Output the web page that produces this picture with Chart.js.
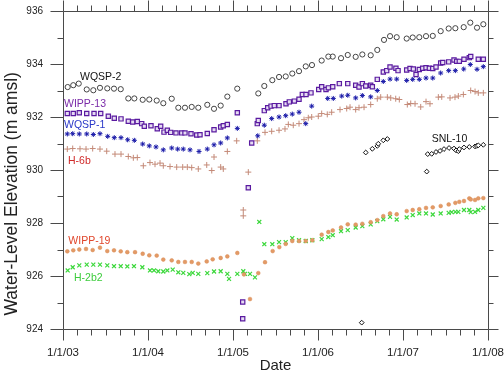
<!DOCTYPE html>
<html><head><meta charset="utf-8">
<script src="https://cdn.jsdelivr.net/npm/chart.js@4.4.1/dist/chart.umd.min.js"></script>
<style>html,body{margin:0;padding:0;background:#fff;}#wrap{width:504px;height:375px;}</style>
</head><body><div id="wrap"><canvas id="c" width="504" height="375"></canvas></div>
<script>
// x values are months after 1/1/03
const xTickLabels = ['1/1/03','1/1/04','1/1/05','1/1/06','1/1/07','1/1/08'];
const yTickValues = [924,926,928,930,932,934,936];
const yTitle = 'Water-Level Elevation (m amsl)';

const wqsp2 = [[0.66,933.13],[1.45,933.20],[2.22,933.26],[3.35,933.04],[4.28,933.01],[5.22,933.10],[6.25,933.08],[7.2,933.07],[8.15,933.05],[9.22,932.70],[10.07,932.70],[11.25,932.65],[12.18,932.66],[13.23,932.62],[14.16,932.52],[15.35,932.69],[16.28,932.35],[17.22,932.35],[18.17,932.38],[19.1,932.35],[20.37,932.46],[21.32,932.31],[22.26,932.43],[23.2,932.77],[24.6,933.07],[27.57,932.89],[28.42,933.17],[29.55,933.39],[30.5,933.51],[31.44,933.53],[32.37,933.64],[33.32,933.73],[34.27,933.91],[35.15,933.96],[36.52,934.13],[37.46,934.28],[38.08,934.28],[39.25,934.22],[40.2,934.34],[41.32,934.27],[42.26,934.36],[43.44,934.33],[44.37,934.53],[45.32,934.91],[46.17,935.05],[47.11,935.01],[48.52,934.96],[49.37,935.00],[50.3,935.01],[51.25,935.05],[52.2,935.06],[53.32,935.24],[54.45,935.34],[55.39,935.35],[56.57,935.39],[57.5,935.56],[58.45,935.37],[59.34,935.50]];

const wipp13 = [[0.61,932.13],[1.45,932.13],[2.3,932.16],[3.35,932.13],[4.38,932.13],[5.32,932.13],[6.4,932.03],[7.24,931.95],[8.19,931.93],[9.22,931.84],[9.84,931.81],[10.49,931.83],[11.11,931.75],[11.48,931.65],[12.42,931.67],[13.31,931.56],[13.79,931.65],[14.26,931.43],[14.73,931.50],[15.2,931.42],[15.95,931.40],[16.76,931.40],[17.22,931.40],[18.07,931.37],[18.88,931.32],[19.34,931.33],[20.37,931.38],[21.32,931.52],[22.26,931.62],[22.63,931.67],[23.2,931.72],[24.61,932.16],[25.37,925.02],[25.37,924.39],[26.16,929.33],[26.64,931.02],[27.43,931.75],[27.57,931.87],[28.42,932.24],[28.9,932.35],[29.37,932.41],[29.83,932.43],[30.5,932.43],[31.48,932.50],[31.95,932.57],[32.66,932.60],[33.32,932.67],[33.79,932.85],[34.31,932.85],[35.01,932.91],[36.1,933.04],[36.52,933.14],[37.13,933.04],[37.46,933.10],[38.08,933.14],[39.01,933.26],[40.2,933.26],[41.32,933.20],[41.79,933.13],[42.26,933.26],[42.74,933.17],[43.44,933.20],[43.67,933.14],[44.37,933.42],[45.22,933.70],[45.7,933.75],[46.17,933.89],[47.0,933.84],[47.3,933.75],[48.52,933.77],[48.99,933.83],[49.46,933.81],[49.84,933.60],[50.3,933.79],[50.78,933.84],[51.25,933.86],[51.72,933.84],[52.2,933.83],[52.66,933.89],[53.32,934.04],[53.61,934.06],[54.45,934.08],[55.2,934.15],[55.58,934.10],[55.95,934.10],[56.61,934.18],[57.36,934.24],[57.56,934.28],[58.63,934.18],[59.34,934.18]];

const wqsp1 = [[0.61,931.36],[1.37,931.37],[2.3,931.36],[3.35,931.36],[4.28,931.34],[5.22,931.37],[6.31,931.27],[7.24,931.22],[8.19,931.22],[9.13,931.14],[10.07,931.12],[11.25,930.98],[12.18,930.91],[13.13,930.87],[14.16,930.76],[15.35,930.83],[16.19,930.79],[16.98,930.79],[17.93,930.76],[19.2,930.70],[20.37,930.79],[21.32,930.95],[22.26,931.02],[23.2,931.21],[24.61,931.57],[27.49,931.29],[28.42,931.69],[29.46,931.94],[30.5,932.00],[31.44,932.05],[32.37,932.11],[33.32,932.18],[34.27,931.75],[35.11,932.41],[37.37,932.70],[38.16,932.70],[39.35,932.79],[40.2,932.82],[41.32,932.72],[42.26,932.81],[43.44,932.76],[44.37,933.00],[45.22,933.34],[46.17,933.43],[47.11,933.43],[48.52,933.38],[49.37,933.42],[50.3,933.42],[51.25,933.47],[52.2,933.47],[53.32,933.66],[54.45,933.75],[55.39,933.75],[56.57,933.81],[57.5,933.98],[58.45,933.80],[59.34,933.90]];

const h6b = [[0.61,930.79],[1.37,930.81],[2.4,930.80],[3.25,930.79],[4.19,930.81],[5.22,930.79],[6.17,930.71],[7.34,930.60],[8.19,930.60],[9.22,930.51],[9.93,930.46],[10.49,930.47],[11.34,930.16],[12.28,930.28],[12.99,930.22],[13.7,930.26],[14.16,930.16],[15.11,930.13],[16.05,930.11],[16.9,930.11],[17.55,930.11],[18.17,930.09],[19.1,930.04],[20.29,930.19],[21.0,929.98],[21.32,930.49],[22.26,930.11],[22.63,930.04],[23.2,930.70],[24.52,931.10],[25.45,928.49],[25.45,928.27],[26.16,929.92],[27.43,931.10],[28.52,931.42],[29.46,931.46],[30.5,931.50],[31.34,931.55],[31.81,931.72],[32.51,931.69],[33.32,931.75],[34.03,931.90],[34.63,931.97],[35.11,932.00],[36.04,932.03],[36.52,932.13],[37.31,932.10],[37.93,932.18],[39.11,932.28],[40.05,932.32],[40.52,932.37],[41.32,932.28],[41.79,932.35],[42.5,932.37],[43.44,932.47],[44.37,932.69],[44.85,932.75],[45.79,932.75],[46.27,932.72],[46.97,932.69],[47.48,932.66],[48.61,932.47],[49.09,932.51],[49.7,932.50],[50.5,932.38],[51.25,932.58],[51.81,932.50],[52.99,932.75],[53.47,932.76],[54.64,932.72],[55.34,932.75],[55.81,932.79],[56.52,932.85],[57.56,933.00],[58.17,932.96],[58.63,932.91],[59.34,932.91]];

const snl10 = [[42.17,924.24],[42.74,930.66],[43.67,930.80],[44.37,930.91],[44.51,930.99],[45.22,931.12],[45.79,931.17],[51.35,929.94],[51.49,930.60],[52.05,930.61],[52.66,930.68],[53.23,930.72],[53.79,930.79],[54.5,930.83],[55.2,930.81],[55.49,930.74],[55.81,930.71],[55.95,930.79],[56.61,930.85],[57.36,930.87],[58.17,930.89],[58.41,930.91],[58.63,930.93],[59.34,930.95]];

const wipp19 = [[0.61,926.93],[1.45,926.97],[2.3,927.00],[3.25,927.02],[4.19,926.98],[5.22,927.07],[6.25,926.94],[7.2,926.97],[8.15,926.93],[9.08,926.90],[10.17,926.90],[11.25,926.84],[12.18,926.78],[13.23,926.77],[14.16,926.62],[15.35,926.59],[16.28,926.53],[17.22,926.53],[18.17,926.53],[19.1,926.47],[20.29,926.55],[21.13,926.63],[22.26,926.68],[23.2,926.74],[24.61,926.87],[25.55,926.06],[26.4,925.13],[27.57,926.11],[28.52,926.52],[29.6,926.94],[30.54,927.09],[31.44,927.21],[32.37,927.32],[33.32,927.32],[34.27,927.32],[35.2,927.35],[36.52,927.56],[37.46,927.66],[38.08,927.72],[39.25,927.83],[40.2,927.95],[41.32,927.94],[42.26,927.97],[43.44,928.03],[44.37,928.11],[45.22,928.26],[46.17,928.36],[47.11,928.33],[48.52,928.45],[49.37,928.49],[50.3,928.52],[51.25,928.57],[52.2,928.59],[53.32,928.64],[54.45,928.70],[55.39,928.76],[55.95,928.80],[56.61,928.83],[57.36,928.93],[57.56,928.89],[58.17,928.87],[58.63,928.93],[59.34,928.94]];

const h2b2 = [[0.66,926.21],[1.37,926.33],[2.3,926.40],[3.35,926.43],[4.28,926.43],[5.22,926.43],[6.25,926.40],[7.2,926.37],[8.15,926.37],[9.08,926.36],[10.02,926.37],[11.2,926.33],[12.28,926.21],[12.85,926.21],[13.45,926.18],[14.16,926.17],[14.73,926.21],[15.49,926.24],[16.28,926.14],[16.98,926.12],[17.83,926.07],[18.31,926.12],[19.1,926.08],[20.37,926.11],[21.32,926.17],[22.26,926.18],[23.2,926.08],[23.44,925.89],[24.61,926.08],[25.45,926.18],[25.69,926.08],[26.4,926.08],[27.1,925.95],[27.71,928.04],[28.42,927.20],[29.55,927.20],[30.5,927.28],[31.44,927.28],[32.37,927.43],[33.32,927.35],[34.27,927.32],[35.2,927.35],[36.52,927.39],[37.46,927.47],[38.08,927.54],[39.25,927.69],[40.2,927.73],[41.32,927.83],[42.26,927.88],[43.44,927.95],[44.37,928.07],[45.22,928.14],[46.17,928.23],[47.11,928.13],[48.52,928.21],[49.37,928.30],[50.3,928.36],[51.25,928.36],[52.2,928.32],[53.32,928.36],[54.45,928.38],[54.87,928.41],[55.39,928.42],[55.81,928.42],[56.61,928.49],[57.36,928.49],[57.56,928.41],[58.17,928.42],[58.63,928.49],[59.34,928.57]];

// series labels: [text, month, elevation, colour]
const seriesLabels = [
  ['WQSP-2', 2.4, 933.50, '#111111'],
  ['WIPP-13', 0.14, 932.47, '#7a2aa8'],
  ['WQSP-1', 0.14, 931.69, '#2a38c8'],
  ['H-6b', 0.7, 930.35, '#d02a2a'],
  ['SNL-10', 52.05, 931.17, '#111111'],
  ['WIPP-19', 0.75, 927.32, '#e0452a'],
  ['H-2b2', 1.55, 925.93, '#3ccc3c']
];

const FONT = 'Arial, "Liberation Sans", sans-serif';
const toPts = arr => arr.map(p => ({x: p[0], y: p[1]}));

const frameTicks = {
  id: 'frameTicks',
  afterDraw(chart) {
    const {ctx, chartArea: a, scales: {x, y}} = chart;
    ctx.save();
    ctx.strokeStyle = '#4a4a4a';
    ctx.lineWidth = 1;
    const L = Math.round(a.left) + 0.5, R = Math.round(a.right) + 0.5;
    const T = Math.round(a.top) + 0.5, B = Math.round(a.bottom) + 0.5;
    ctx.beginPath();
    ctx.rect(L, T, R - L, B - T);
    for (let m = 0; m <= 60; m += 2) {
      const px = Math.round(x.getPixelForValue(m)) + 0.5;
      const major = m % 12 === 0;
      ctx.moveTo(px, B); ctx.lineTo(px, B + (major ? 11 : 6));
      ctx.moveTo(px, T); ctx.lineTo(px, T - (major ? 11 : 6));
    }
    for (let v = 924; v <= 936; v += 1) {
      const py = Math.round(y.getPixelForValue(v)) + 0.5;
      const major = v % 2 === 0;
      ctx.moveTo(L, py); ctx.lineTo(L - (major ? 13 : 6), py);
      ctx.moveTo(R, py); ctx.lineTo(R + (major ? 10 : 5), py);
    }
    ctx.stroke();
    // y-axis title, centred a little below the middle of the axis as in the original
    ctx.fillStyle = '#222';
    ctx.font = '17.5px ' + FONT;
    ctx.textAlign = 'center';
    ctx.textBaseline = 'middle';
    ctx.translate(12, y.getPixelForValue(929.1));
    ctx.rotate(-Math.PI / 2);
    ctx.fillText(yTitle, 0, 0);
    ctx.restore();
  }
};

const seriesText = {
  id: 'seriesText',
  afterDatasetsDraw(chart) {
    const {ctx, scales: {x, y}} = chart;
    ctx.save();
    ctx.font = '10.5px ' + FONT;
    ctx.textAlign = 'left';
    ctx.textBaseline = 'middle';
    seriesLabels.forEach(([t, m, v, c]) => {
      ctx.fillStyle = c;
      ctx.fillText(t, x.getPixelForValue(m), y.getPixelForValue(v));
    });
    ctx.restore();
  }
};

new Chart(document.getElementById('c'), {
  type: 'scatter',
  data: {
    datasets: [
      {label: 'WQSP-2', data: toPts(wqsp2), pointStyle: 'circle', pointRadius: 2.6, borderWidth: 1, borderColor: '#444444', backgroundColor: 'rgba(255,255,255,0)'},
      {label: 'WIPP-13', data: toPts(wipp13), pointStyle: 'rect', pointRadius: 3.0, borderWidth: 1.2, borderColor: '#5a1aa0', backgroundColor: '#e6dcf2'},
      {label: 'WQSP-1', data: toPts(wqsp1), pointStyle: 'star', pointRadius: 2.5, borderWidth: 1, borderColor: '#1a1aa8', backgroundColor: '#1a1aa8'},
      {label: 'H-6b', data: toPts(h6b), pointStyle: 'cross', pointRadius: 3, borderWidth: 1, borderColor: '#c48a78', backgroundColor: '#c48a78'},
      {label: 'SNL-10', data: toPts(snl10), pointStyle: 'rectRot', pointRadius: 2.4, borderWidth: 1, borderColor: '#111111', backgroundColor: '#ffffff'},
      {label: 'WIPP-19', data: toPts(wipp19), pointStyle: 'circle', pointRadius: 1.9, borderWidth: 0.5, borderColor: '#d98a55', backgroundColor: '#e39a66'},
      {label: 'H-2b2', data: toPts(h2b2), pointStyle: 'crossRot', pointRadius: 2.8, borderWidth: 1.2, borderColor: '#3cd83c', backgroundColor: '#3cd83c'}
    ]
  },
  options: {
    responsive: false,
    animation: false,
    devicePixelRatio: 1,
    layout: {padding: {top: 11, right: 16, left: 0, bottom: 0}},
    plugins: {legend: {display: false}, tooltip: {enabled: false}},
    scales: {
      x: {
        type: 'linear', min: 0, max: 60,
        grid: {display: false, drawTicks: false},
        border: {display: false},
        ticks: {stepSize: 12, autoSkip: false, maxRotation: 0, padding: 17,
          color: '#222', font: {family: FONT, size: 11.5},
          callback: v => xTickLabels[Math.round(v / 12)]},
        title: {display: true, text: 'Date', color: '#222', font: {family: FONT, size: 15}, padding: {top: 0, bottom: 0}},
        afterFit: s => { s.height = 46; s.paddingLeft = 0; s.paddingRight = 0; }
      },
      y: {
        type: 'linear', min: 924, max: 936,
        grid: {display: false, drawTicks: false},
        border: {display: false},
        ticks: {stepSize: 2, padding: 20, color: '#222', font: {family: FONT, size: 10},
          callback: v => yTickValues.includes(v) ? String(v) : ''},
        title: {display: false},
        afterFit: s => { s.width = 63; s.paddingTop = 0; s.paddingBottom = 0; }
      }
    }
  },
  plugins: [frameTicks, seriesText]
});
</script>
</body></html>
